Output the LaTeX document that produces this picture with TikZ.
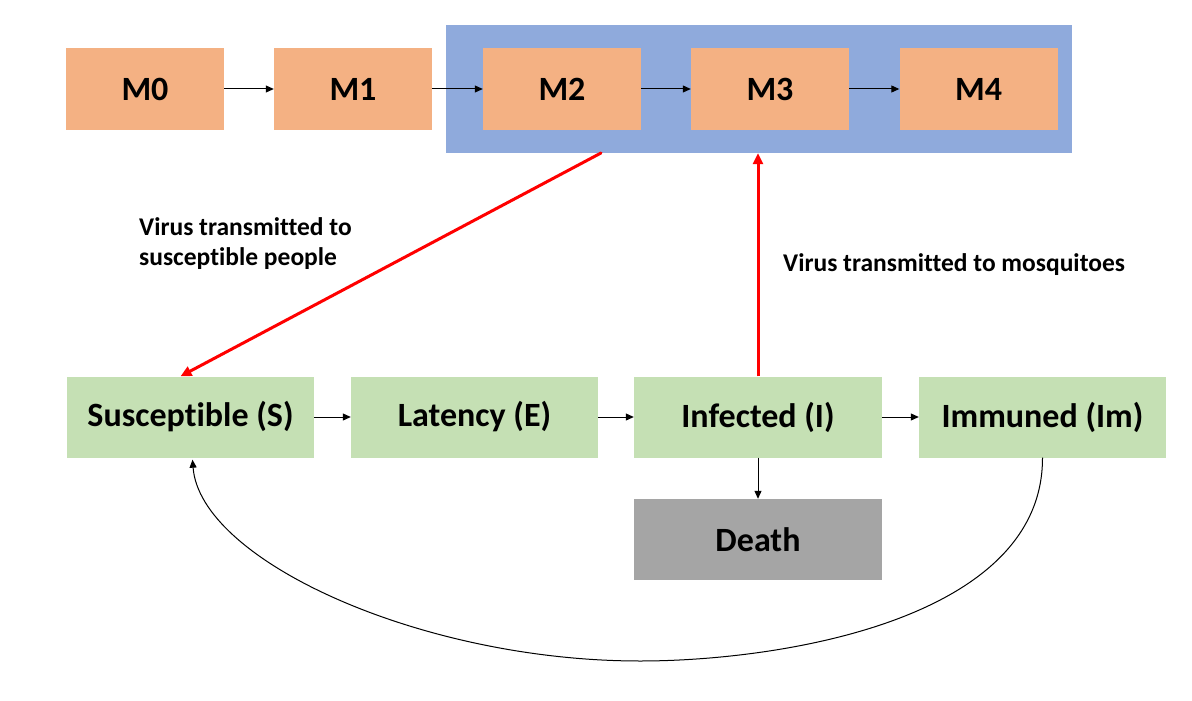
\documentclass[tikz,border=0pt]{standalone}
\usepackage{fontspec}
\setmainfont{Carlito}[Ligatures=NoCommon]
\usetikzlibrary{arrows.meta}
\definecolor{morange}{HTML}{F4B183}
\definecolor{mblue}{HTML}{8FAADC}
\definecolor{mgreen}{HTML}{C5E0B4}
\definecolor{mgray}{HTML}{A5A5A5}
\tikzset{
  mbox/.style={fill=morange, minimum width=158pt, minimum height=82pt, inner sep=0pt, font=\fontsize{34}{40}\selectfont\bfseries},
  hbox/.style={fill=mgreen, minimum width=247pt, minimum height=81pt, inner sep=0pt, font=\fontsize{34}{40}\selectfont\bfseries},
  dbox/.style={fill=mgray, minimum width=248pt, minimum height=81pt, inner sep=0pt, font=\fontsize{34}{40}\selectfont\bfseries},
  lbl/.style={font=\fontsize{25.5}{30}\selectfont\bfseries, inner sep=0pt, align=left},
  blk/.style={-{Triangle[length=8pt,width=7pt]}, line width=1pt, black},
  redarr/.style={-{Triangle[length=11pt,width=10pt]}, line width=3pt, red},
}
\begin{document}
\begin{tikzpicture}[x=1pt,y=-1pt]
\useasboundingbox (0,0) rectangle (1192,701);
\node[fill=mblue, minimum width=626pt, minimum height=128pt, inner sep=0pt] (mgroup) at (759,89) {};
\node[mbox] (M0) at (145,89) {M0};
\node[mbox] (M1) at (353,89) {M1};
\node[mbox] (M2) at (562,89) {M2};
\node[mbox] (M3) at (770,89) {M3};
\node[mbox] (M4) at (978.5,89) {M4};
\draw[blk] (M0) -- (M1);
\draw[blk] (M1) -- (M2);
\draw[blk] (M2) -- (M3);
\draw[blk] (M3) -- (M4);

\node[hbox] (S) at (190.5,417) {Susceptible (S)};
\node[hbox] (E) at (474.5,417) {Latency (E)};
\node[hbox, minimum width=248pt] (I) at (758,417) {Infected (I)};
\node[hbox] (Im) at (1042.5,417) {Immuned (Im)};
\node[dbox] (D) at (758,539.5) {Death};
\draw[blk] (S) -- (E);
\draw[blk] (E) -- (I);
\draw[blk] (I) -- (Im);
\draw[blk] (I) -- (D);

\coordinate (r1) at (601,153);
\draw[redarr, line cap=round] (r1) -- ([xshift=-10pt]S.north);
\draw[redarr] (I.north) -- (I.north |- mgroup.south);

\coordinate (cbot) at (640,661);
\draw[blk] (Im.south) .. controls (1043,620) and (780,661) .. (cbot)
  .. controls (420,661) and (200,560) .. ([xshift=2pt,yshift=-2pt]S.south);

\node[lbl, anchor=west] (t1) at (139,244) {Virus transmitted to\\susceptible people};
\node[lbl, anchor=west] (t2) at (783,265) {Virus transmitted to mosquitoes};
\end{tikzpicture}
\end{document}
